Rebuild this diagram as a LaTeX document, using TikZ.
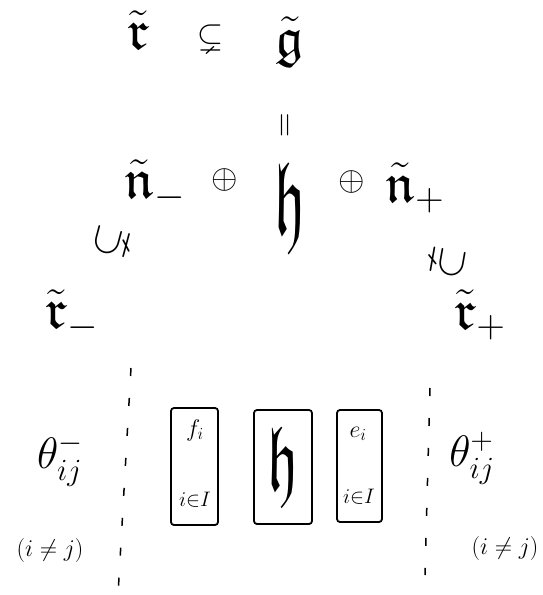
\RequirePackage{fix-cm}
\documentclass[tikz,border=0pt]{standalone}
\usepackage{amssymb}
\usepackage{graphicx}
\begin{document}
\begin{tikzpicture}[x=1pt,y=-1pt,
  big/.style={inner sep=0pt, font=\fontsize{56}{64}\selectfont},
  theta/.style={inner sep=0pt, font=\fontsize{44}{50}\selectfont},
  huge/.style={inner sep=0pt, font=\fontsize{80}{90}\selectfont},
  mid/.style={inner sep=0pt, font=\fontsize{34}{40}\selectfont},
  rel/.style={inner sep=0pt, font=\fontsize{42}{48}\selectfont},
  small/.style={inner sep=0pt, font=\fontsize{24}{28}\selectfont},
  tiny/.style={inner sep=0pt, font=\fontsize{21}{24}\selectfont},
  genbox/.style={draw, line width=1.8pt, rounded corners=3pt},
  sep/.style={line width=1.5pt, dash pattern=on 8pt off 22pt}]
\useasboundingbox (0,0) rectangle (542,595);
% top row
\node[big] (rt) at (138,30) {$\tilde{\mathfrak r}$};
\node[mid] (sub) at (210,38) {$\subsetneq$};
\node[big] (gt) at (290,42) {$\tilde{\mathfrak g}$};
\node[mid] (eq) at (287,125) {\rotatebox{90}{$=$}};
% decomposition row
\node[big] (nm) at (155,185) {$\tilde{\mathfrak n}_{-}$};
\node[mid] (op1) at (225,180) {$\oplus$};
\node[huge] (h) at (290,208) {\scalebox{0.75}[1.3]{$\mathfrak h$}};
\node[mid] (op2) at (352,182) {$\oplus$};
\node[big] (np) at (415,188) {$\tilde{\mathfrak n}_{+}$};
\node[rel] (s1) at (112,242) {\rotatebox{75}{$\subsetneq$}};
\node[rel] (s2) at (448,262) {\rotatebox{-100}{$\supsetneq$}};
\node[big] (rm) at (72,315) {$\tilde{\mathfrak r}_-$};
\node[big] (rp) at (480,315) {$\tilde{\mathfrak r}_+$};
% separators
\coordinate (l1) at (131,368);
\coordinate (l2) at (118,595);
\coordinate (r1) at (430,388);
\coordinate (r2) at (425,575);
\draw[sep] (l1) -- (l2);
\draw[sep] (r1) -- (r2);
% theta labels
\node[theta] (thm) at (60,460) {$\theta^-_{ij}$};
\node[small] (cm) at (50,550) {$(i\neq j)$};
\node[theta] (thp) at (472,458) {$\theta^+_{ij}$};
\node[small] (cp) at (505,548) {$(i\neq j)$};
% boxes
\node[genbox, minimum width=47pt, minimum height=117pt] (bf) at (194.5,466.5) {};
\node[small] (fi) at (195,430) {$f_i$};
\node[tiny] (fI) at (195,500) {$i{\in}I$};
\node[genbox, minimum width=58pt, minimum height=114pt] (bh) at (283,467) {};
\node[huge] (hh) at (283,467) {\scalebox{0.75}[1.15]{$\mathfrak h$}};
\node[genbox, minimum width=45pt, minimum height=112pt] (be) at (359.5,466) {};
\node[small] (ei) at (358,434) {$e_i$};
\node[tiny] (eI) at (359,497) {$i{\in}I$};
\end{tikzpicture}
\end{document}
